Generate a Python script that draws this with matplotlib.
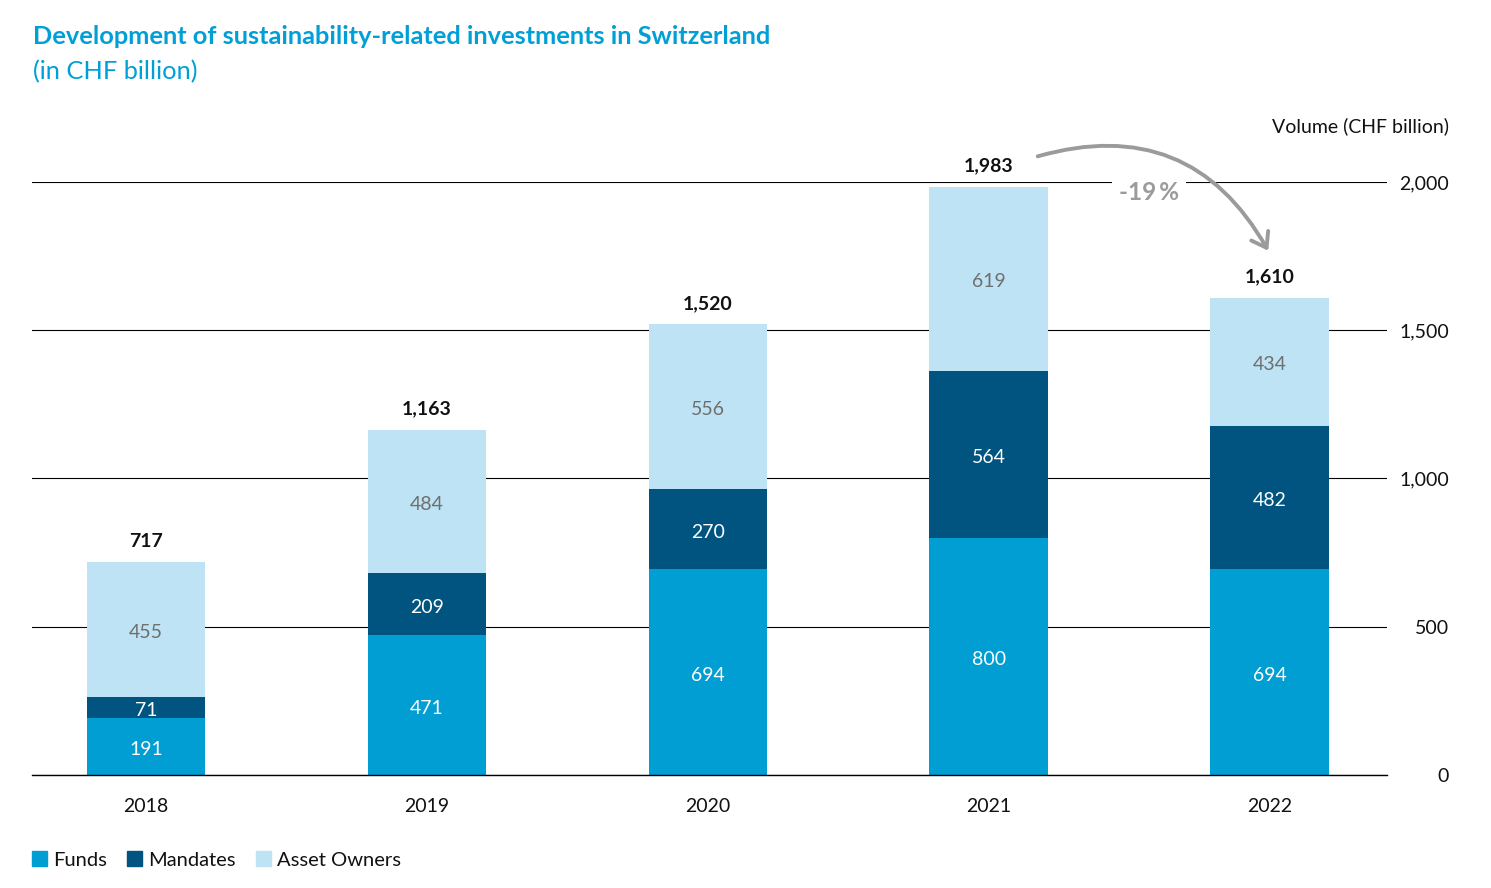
import matplotlib
matplotlib.use("Agg")
import matplotlib.pyplot as plt
from matplotlib.patches import Patch, FancyArrowPatch

plt.rcParams["font.family"] = ["Lato", "DejaVu Sans"]

# --- Daten ---
years = ["2018", "2019", "2020", "2021", "2022"]
funds = [191, 471, 694, 800, 694]
mandates = [71, 209, 270, 564, 482]
asset_owners = [455, 484, 556, 619, 434]
totals = [717, 1163, 1520, 1983, 1610]
y_ticks = [0, 500, 1000, 1500, 2000]
change_label = "-19\u2009%"

C_FUNDS = "#009ed3"
C_MANDATES = "#00547f"
C_OWNERS = "#bde3f4"
C_TITLE = "#009fd6"

fig = plt.figure(figsize=(14.91, 8.88), dpi=100)
ax = fig.add_axes([32 / 1491, 1 - 775 / 888, (1387 - 32) / 1491, (775 - 182) / 888])

x = list(range(len(years)))
w = 0.422
b2 = [f + m for f, m in zip(funds, mandates)]
ax.bar(x, funds, w, color=C_FUNDS, zorder=3)
ax.bar(x, mandates, w, bottom=funds, color=C_MANDATES, zorder=3)
ax.bar(x, asset_owners, w, bottom=b2, color=C_OWNERS, zorder=3)

fs = 14
off = -3  # Lato sitzt etwas hoch, leicht nach unten schieben (Pixel)
for i in x:
    ax.annotate(str(funds[i]), (i, funds[i] / 2), xytext=(0, off / 1.389),
                textcoords="offset points", ha="center", va="center",
                color="white", fontsize=fs, zorder=4)
    ax.annotate(str(mandates[i]), (i, funds[i] + mandates[i] / 2), xytext=(0, off / 1.389),
                textcoords="offset points", ha="center", va="center",
                color="white", fontsize=fs, zorder=4)
    ax.annotate(str(asset_owners[i]), (i, b2[i] + asset_owners[i] / 2), xytext=(0, off / 1.389),
                textcoords="offset points", ha="center", va="center",
                color="#6f6f6f", fontsize=fs, zorder=4)
    top = b2[i] + asset_owners[i]
    ax.annotate(f"{totals[i]:,}", (i, top), xytext=(0, 15), textcoords="offset points",
                ha="center", va="center", fontsize=fs, fontweight="bold",
                color="#111111", zorder=4)

ax.set_xlim(-0.406, 4.418)
ax.set_ylim(0, 2000)
ax.set_yticks(y_ticks)
ax.set_yticklabels([f"{v:,}" for v in y_ticks])
ax.yaxis.tick_right()
ax.tick_params(axis="y", length=0, pad=44.6, labelsize=fs, colors="#111111")
for lab in ax.get_yticklabels():
    lab.set_horizontalalignment("right")
ax.set_xticks(x)
ax.set_xticklabels(years)
ax.tick_params(axis="x", length=0, pad=16.5, labelsize=fs, colors="#111111")
ax.grid(axis="y", color="black", linewidth=0.8, zorder=1)
ax.set_axisbelow(True)
for s in ax.spines.values():
    s.set_visible(False)
ax.axhline(0, color="black", linewidth=1.0, zorder=5, clip_on=False)

# Veraenderung 2021 -> 2022
arrow = FancyArrowPatch((3.165, 2084), (4.0, 1760), connectionstyle="arc3,rad=-0.4",
                        arrowstyle="->,head_length=10,head_width=7", color="#9b9b9b",
                        linewidth=2.8, clip_on=False, zorder=6)
ax.add_patch(arrow)
ax.text(3.57, 1965, change_label, ha="center", va="center", fontsize=17.5,
        color="#9b9b9b", fontweight="bold", zorder=7,
        bbox=dict(facecolor="white", edgecolor="none", pad=5))

# Titel
fig.text(33 / 1491, 1 - 36 / 888, "Development of sustainability-related investments in Switzerland",
         ha="left", va="center", fontsize=18.3, fontweight="bold", color=C_TITLE)
fig.text(33 / 1491, 1 - 72 / 888, "(in CHF billion)", ha="left", va="center",
         fontsize=18.3, color=C_TITLE)
fig.text(1449 / 1491, 1 - 126 / 888, "Volume (CHF billion)", ha="right", va="center",
         fontsize=fs, color="#111111")

handles = [Patch(color=C_FUNDS), Patch(color=C_MANDATES), Patch(color=C_OWNERS)]
fig.legend(handles, ["Funds", "Mandates", "Asset Owners"], loc="center left",
           bbox_to_anchor=(14 / 1491, 1 - 860 / 888), ncol=3, frameon=False,
           fontsize=fs + 0.5, handlelength=0.75, handleheight=0.75, handletextpad=0.3,
           columnspacing=1.0, labelcolor="#111111")

fig.savefig("out.png", dpi=100)
